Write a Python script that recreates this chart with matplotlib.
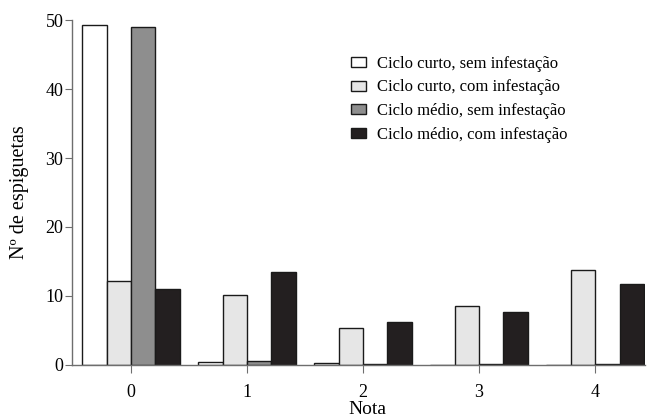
import numpy as np
import matplotlib.pyplot as plt

plt.rcParams['font.family'] = ['Liberation Serif', 'DejaVu Serif']

# Data
notas = ['0', '1', '2', '3', '4']
series_labels = ['Ciclo curto, sem infestação', 'Ciclo curto, com infestação',
                 'Ciclo médio, sem infestação', 'Ciclo médio, com infestação']
curto_sem = [49.3, 0.4, 0.3, 0.05, 0.05]
curto_com = [12.2, 10.2, 5.3, 8.5, 13.8]
medio_sem = [49.0, 0.6, 0.2, 0.15, 0.1]
medio_com = [11.0, 13.4, 6.2, 7.7, 11.8]

colors = ['#ffffff', '#e6e6e6', '#8e8e8e', '#231f20']

fig = plt.figure(figsize=(6.47, 4.18), dpi=100)
ax = fig.add_axes([0.111, 0.127, 0.886, 0.825])

x = np.arange(len(notas))
w = 0.21
all_series = [curto_sem, curto_com, medio_sem, medio_com]
for i, (vals, lab, col) in enumerate(zip(all_series, series_labels, colors)):
    ax.bar(x + (i - 1.5) * w, vals, w, color=col, edgecolor='#1a1a1a',
           linewidth=1.0, label=lab)

ax.set_xlim(-0.51, 4.43)
ax.set_ylim(0, 50)
ax.set_yticks([0, 10, 20, 30, 40, 50])
ax.set_xticks(x)
ax.set_xticklabels(notas)

for s in ['top', 'right']:
    ax.spines[s].set_visible(False)
for s in ['left', 'bottom']:
    ax.spines[s].set_color('#6e6e6e')
    ax.spines[s].set_linewidth(1.0)

ax.tick_params(axis='y', direction='out', length=5, color='#6e6e6e',
               labelsize=13, pad=1)
ax.tick_params(axis='x', direction='out', length=6, color='#6e6e6e',
               labelsize=13, pad=8)

ax.set_xlabel('Nota', fontsize=14, labelpad=0)
ax.xaxis.label.set_x(0.515)
ax.set_ylabel('Nº de espiguetas', fontsize=14.5, labelpad=12)

ax.legend(loc='upper left', bbox_to_anchor=(0.461, 0.94), frameon=False,
          fontsize=12, handlelength=0.9, handleheight=0.55,
          handletextpad=0.66, labelspacing=0.46)

fig.savefig('out.png', dpi=100)
